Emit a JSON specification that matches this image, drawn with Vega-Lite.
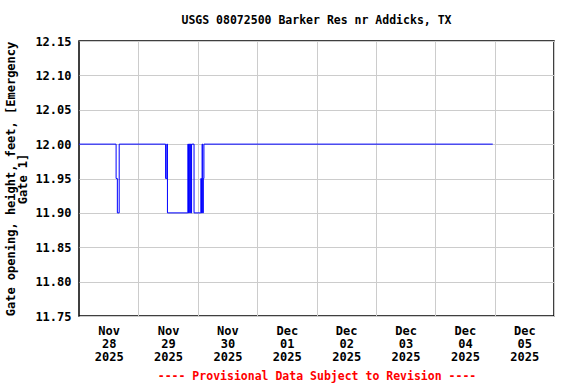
{
  "$schema": "https://vega.github.io/schema/vega-lite/v6.json",
  "autosize": "none",
  "width": 475,
  "height": 275,
  "padding": {"left": 79, "top": 41, "right": 22, "bottom": 68},
  "background": "white",
  "view": {"stroke": "#000000", "strokeWidth": 1.5},
  "config": {
    "font": "DejaVu Sans Mono"
  },
  "title": {
    "text": "USGS 08072500 Barker Res nr Addicks, TX",
    "anchor": "middle",
    "font": "DejaVu Sans Mono",
    "fontSize": 11.5,
    "fontWeight": "bold",
    "color": "black",
    "offset": 9
  },
  "data": {
    "values": [
      {"t": "2025-11-28T00:00:00Z", "v": 12.00},
      {"t": "2025-11-28T15:00:00Z", "v": 11.95},
      {"t": "2025-11-28T15:30:00Z", "v": 11.90},
      {"t": "2025-11-28T16:15:00Z", "v": 12.00},
      {"t": "2025-11-29T11:00:00Z", "v": 11.95},
      {"t": "2025-11-29T11:30:00Z", "v": 12.00},
      {"t": "2025-11-29T11:45:00Z", "v": 11.90},
      {"t": "2025-11-29T20:00:00Z", "v": 12.00},
      {"t": "2025-11-29T20:15:00Z", "v": 11.90},
      {"t": "2025-11-29T20:30:00Z", "v": 12.00},
      {"t": "2025-11-29T20:45:00Z", "v": 11.90},
      {"t": "2025-11-29T21:00:00Z", "v": 12.00},
      {"t": "2025-11-29T21:15:00Z", "v": 11.90},
      {"t": "2025-11-29T21:30:00Z", "v": 12.00},
      {"t": "2025-11-29T22:30:00Z", "v": 11.90},
      {"t": "2025-11-30T01:15:00Z", "v": 11.95},
      {"t": "2025-11-30T01:30:00Z", "v": 11.90},
      {"t": "2025-11-30T01:45:00Z", "v": 12.00},
      {"t": "2025-11-30T02:00:00Z", "v": 11.90},
      {"t": "2025-11-30T02:15:00Z", "v": 11.95},
      {"t": "2025-11-30T02:30:00Z", "v": 12.00},
      {"t": "2025-12-04T23:15:00Z", "v": 12.00}
    ]
  },
  "mark": {"type": "line", "interpolate": "step-after", "color": "#0000ff", "strokeWidth": 1},
  "encoding": {
    "x": {
      "field": "t",
      "type": "temporal",
      "scale": {
        "type": "utc",
        "domain": [
          {"year": 2025, "month": 11, "date": 28, "utc": true},
          {"year": 2025, "month": 12, "date": 6, "utc": true}
        ],
        "nice": false
      },
      "axis": {
        "values": [
          {"year": 2025, "month": 11, "date": 29, "utc": true},
          {"year": 2025, "month": 11, "date": 30, "utc": true},
          {"year": 2025, "month": 12, "date": 1, "utc": true},
          {"year": 2025, "month": 12, "date": 2, "utc": true},
          {"year": 2025, "month": 12, "date": 3, "utc": true},
          {"year": 2025, "month": 12, "date": 4, "utc": true},
          {"year": 2025, "month": 12, "date": 5, "utc": true},
          {"year": 2025, "month": 12, "date": 6, "utc": true}
        ],
        "labelExpr": "[utcFormat(datum.value - 86400000, '%b'), utcFormat(datum.value - 86400000, '%d'), utcFormat(datum.value - 86400000, '%Y')]",
        "labelOffset": -29.7,
        "labelAlign": "center",
        "labelBaseline": "top",
        "labelPadding": 9,
        "labelLineHeight": 13,
        "labelFont": "DejaVu Sans Mono",
        "labelFontSize": 12,
        "labelFontWeight": "bold",
        "labelColor": "black",
        "labelOverlap": false,
        "labelFlush": false,
        "labelBound": false,
        "ticks": false,
        "domain": false,
        "grid": true,
        "gridColor": "#cccccc",
        "gridWidth": 1,
        "title": "---- Provisional Data Subject to Revision ----",
        "titleColor": "#ff0000",
        "titleFont": "DejaVu Sans Mono",
        "titleFontSize": 11.5,
        "titleFontWeight": "bold",
        "titlePadding": 8
      }
    },
    "y": {
      "field": "v",
      "type": "quantitative",
      "scale": {"domain": [11.75, 12.15], "nice": false, "zero": false},
      "axis": {
        "values": [11.8, 11.85, 11.9, 11.95, 12.0, 12.05, 12.1, 11.75, 12.15],
        "format": ".2f",
        "labelFont": "DejaVu Sans Mono",
        "labelFontSize": 12,
        "labelFontWeight": "bold",
        "labelColor": "black",
        "labelPadding": 8,
        "labelOverlap": false,
        "labelFlush": false,
        "ticks": false,
        "domain": false,
        "grid": true,
        "gridColor": "#cccccc",
        "gridWidth": 1,
        "title": ["Gate opening, height, feet, [Emergency", "Gate 1]"],
        "titleFont": "DejaVu Sans Mono",
        "titleFontSize": 12,
        "titleFontWeight": "bold",
        "titleColor": "black",
        "titleLineHeight": 12,
        "titlePadding": 5
      }
    }
  }
}
